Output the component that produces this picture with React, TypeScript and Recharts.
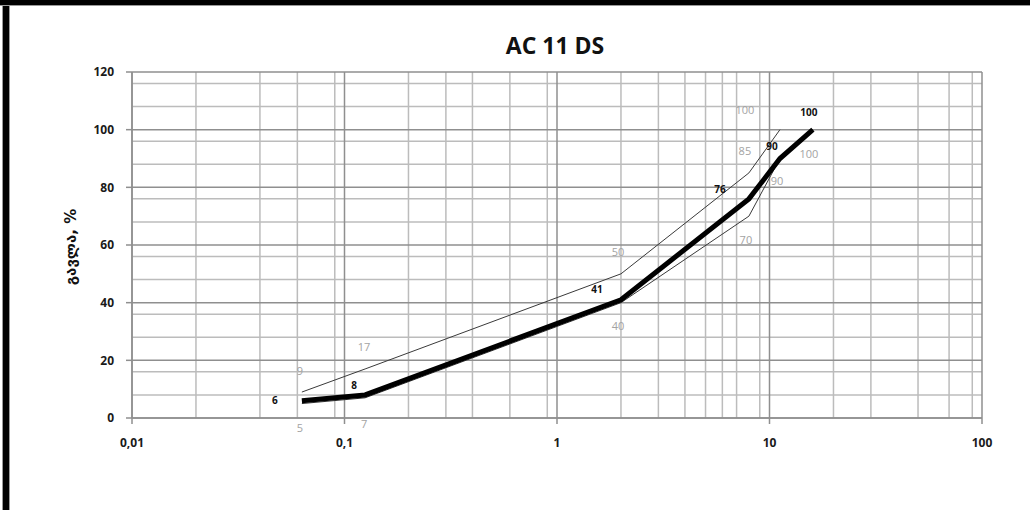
import React from 'react';
import { LineChart, Line, XAxis, YAxis, CartesianGrid, LabelList } from 'recharts';

// sieve size (mm) and passing (%)
const sieveMain = [0.063, 0.125, 2, 8, 11.2, 16];
const passMain = [6, 8, 41, 76, 90, 100];
const sieveUpper = [0.063, 0.125, 2, 8, 11.2];
const passUpper = [9, 17, 50, 85, 100];
const sieveLower = [0.063, 0.125, 2, 8, 11.2, 16];
const passLower = [5, 7, 40, 70, 90, 100];

const xTicks = [0.01, 0.1, 1, 10, 100];
const yTicks = [0, 20, 40, 60, 80, 100, 120];

const title = 'AC 11 DS';
const yLabel = 'გავლა, %';

// label placement (styling only)
const mainOffsets = [[-27, -1], [-11, -10], [-24, -11], [-29, -10], [-8, -13], [-4, -18]];
const upperOffsets = [[-2, -22], [-1, -22], [-3, -22], [-4, -22], [-35, -20]];
const lowerOffsets = [[-2, 24], [-1, 26], [-3, 23], [-3, 23], [-3, 22], [-4, 24]];

const toRows = (xs: number[], ys: number[]) => xs.map((x, i) => ({ x, y: ys[i] }));
const mainData = toRows(sieveMain, passMain);
const upperData = toRows(sieveUpper, passUpper);
const lowerData = toRows(sieveLower, passLower);

const minorX = [0.01, 0.1, 1, 10].flatMap((d) =>
  [2, 3, 4, 5, 6, 7, 8, 9].map((m) => Number((d * m).toPrecision(3)))
);
const minorY: number[] = [];
for (let v = 4; v < 120; v += 4) if (v % 20 !== 0) minorY.push(v);

const makeLabel = (offsets: number[][], color: string, bold: boolean, size: number) =>
  (props: any) => {
    const { x, y, value, index } = props;
    const o = offsets[index] || [0, -15];
    return (
      <text
        x={Number(x) + o[0]}
        y={Number(y) + o[1]}
        textAnchor="middle"
        dominantBaseline="central"
        fill={color}
        fontSize={size}
        fontWeight={bold ? 700 : 400}
        fontFamily="'Open Sans', sans-serif"
      >
        {value}
      </text>
    );
  };

export default function App() {
  return (
    <div style={{ position: 'absolute', left: 0, top: 0, width: 1030, height: 510, background: '#fff', overflow: 'hidden' }}>
      <div style={{ position: 'absolute', left: 2, top: 0, width: 8, height: 510, background: '#999' }} />
      <div style={{ position: 'absolute', left: 3, top: 0, width: 6, height: 510, background: '#000' }} />
      <div style={{ position: 'absolute', left: 0, top: 0, width: 1030, height: 6, background: '#999' }} />
      <div style={{ position: 'absolute', left: 0, top: 0, width: 1030, height: 5, background: '#000' }} />
      <div
        style={{
          position: 'absolute', left: 0, top: 30, width: 1110, textAlign: 'center',
          fontFamily: "'Open Sans', sans-serif", fontWeight: 700, fontSize: 23, color: '#111', lineHeight: '30px',
        }}
      >
        {title}
      </div>
      <div
        style={{
          position: 'absolute', left: 71, top: 247, transform: 'translate(-50%, -50%) rotate(-90deg)',
          fontFamily: "'DejaVu Sans', sans-serif", fontWeight: 700, fontSize: 15, color: '#111', whiteSpace: 'nowrap',
        }}
      >
        {yLabel}
      </div>
      <LineChart width={1030} height={510} margin={{ top: 72, right: 48, bottom: 62, left: 52 }}>
        <CartesianGrid stroke="#bcbcbc" strokeWidth={1.5} verticalValues={minorX} horizontalValues={minorY} />
        <CartesianGrid stroke="#8f8f8f" strokeWidth={1.5} verticalValues={xTicks} horizontalValues={yTicks} />
        <XAxis
          type="number"
          dataKey="x"
          scale="log"
          domain={[0.01, 100]}
          ticks={xTicks}
          allowDataOverflow
          tickFormatter={(v: number) => String(v).replace('.', ',')}
          stroke="#8f8f8f"
          strokeWidth={1.5}
          tickSize={6}
          tickMargin={14}
          height={30}
          tick={{ fill: '#1a1a1a', fontSize: 12, fontWeight: 700, fontFamily: "'Open Sans', sans-serif" }}
        />
        <YAxis
          type="number"
          dataKey="y"
          domain={[0, 120]}
          ticks={yTicks}
          stroke="#8f8f8f"
          strokeWidth={1.5}
          tickSize={6}
          tickMargin={12}
          width={80}
          tick={{ fill: '#1a1a1a', fontSize: 12, fontWeight: 700, fontFamily: "'Open Sans', sans-serif" }}
        />
        <Line data={upperData} dataKey="y" stroke="#3a3a3a" strokeWidth={1} dot={false} isAnimationActive={false}>
          <LabelList dataKey="y" content={makeLabel(upperOffsets, '#a3a3a3', false, 11)} />
        </Line>
        <Line data={lowerData} dataKey="y" stroke="#3a3a3a" strokeWidth={1} dot={false} isAnimationActive={false}>
          <LabelList dataKey="y" content={makeLabel(lowerOffsets, '#a3a3a3', false, 11)} />
        </Line>
        <Line data={mainData} dataKey="y" stroke="#000" strokeWidth={5} dot={false} isAnimationActive={false}>
          <LabelList dataKey="y" content={makeLabel(mainOffsets, '#111', true, 10)} />
        </Line>
      </LineChart>
    </div>
  );
}
